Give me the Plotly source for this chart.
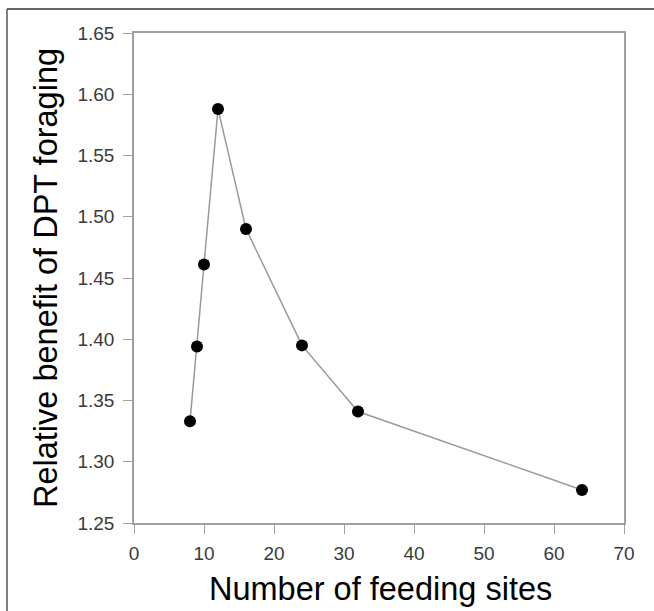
import plotly.graph_objects as go

feeding_sites = [8, 9, 10, 12, 16, 24, 32, 64]
relative_benefit = [1.333, 1.394, 1.461, 1.588, 1.490, 1.395, 1.341, 1.277]

x_ticks = [0, 10, 20, 30, 40, 50, 60, 70]
y_ticks = [1.25, 1.30, 1.35, 1.40, 1.45, 1.50, 1.55, 1.60, 1.65]

x_title = "Number of feeding sites"
y_title = "Relative benefit of DPT foraging"

fig = go.Figure()
fig.add_trace(go.Scatter(
    x=feeding_sites, y=relative_benefit, mode="lines+markers",
    line=dict(color="#9a9a9a", width=1.5),
    marker=dict(color="black", size=12),
    showlegend=False,
))

title_font = dict(family="Liberation Sans, Arial, sans-serif", size=32.5, color="black")
axis_common = dict(
    showline=True, linecolor="#a0a0a0", linewidth=1.5, mirror=True,
    ticks="outside", ticklen=9, tickcolor="#a0a0a0", tickwidth=1,
    showgrid=False, zeroline=False, automargin=False,
    tickfont=dict(family="Liberation Sans, Arial, sans-serif", size=19, color="#3a3a3a"),
    title_font=title_font,
)

fig.update_xaxes(range=[0, 70], tickvals=x_ticks, ticktext=[str(v) for v in x_ticks],
                 ticklabelstandoff=3, **axis_common)
fig.update_yaxes(range=[1.25, 1.65], tickvals=y_ticks, ticktext=[f"{v:.2f}" for v in y_ticks],
                 ticklabelstandoff=5,
                 title_text=y_title, title_standoff=10, **axis_common)

W, H = 654, 611
l, r, t, b = 134, 30, 33, 88
pw, ph = W - l - r, H - t - b
px = lambda v: (v - l) / pw
py = lambda v: (H - b - v) / ph

fig.add_annotation(text=x_title, xref="paper", yref="paper",
                   x=px(380), y=py(569), xanchor="center", yanchor="top",
                   showarrow=False, font=title_font)

fig.add_shape(type="line", xref="paper", yref="paper",
              x0=px(7), x1=px(660), y0=py(9), y1=py(9),
              line=dict(color="#333333", width=1.5))
fig.add_shape(type="line", xref="paper", yref="paper",
              x0=px(7), x1=px(7), y0=py(9), y1=py(620),
              line=dict(color="#555555", width=1.5))

fig.update_layout(
    width=W, height=H, margin=dict(l=l, r=r, t=t, b=b),
    paper_bgcolor="white", plot_bgcolor="white",
)
fig.write_html("out.html", config={"displayModeBar": False},
               post_script="document.body.style.margin='0px';")
